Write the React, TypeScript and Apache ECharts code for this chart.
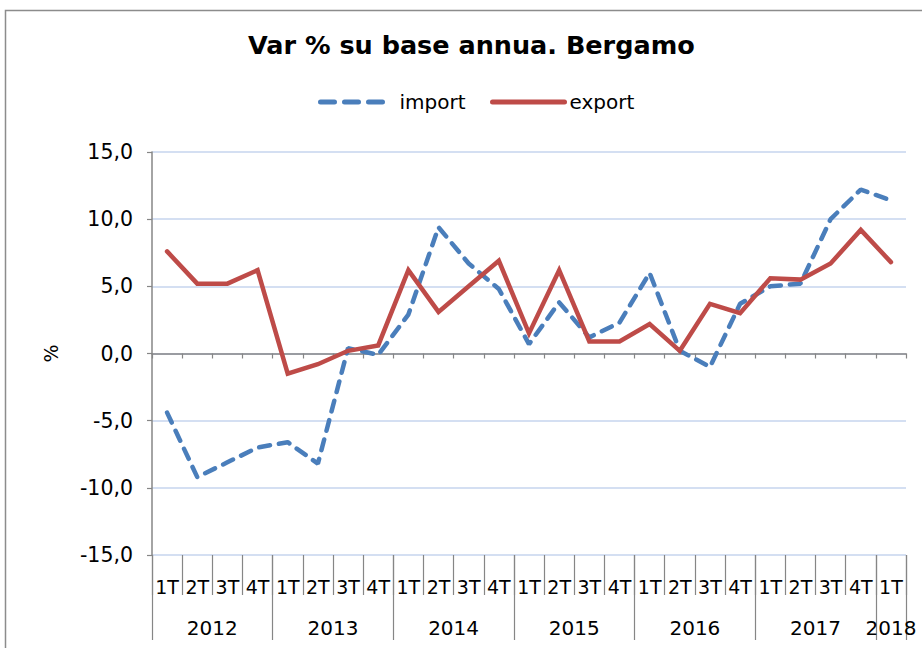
import React, { useEffect, useRef } from "react";
import * as echarts from "echarts";

const years = ["2012", "2013", "2014", "2015", "2016", "2017", "2018"];
const quarters = [
  "1T", "2T", "3T", "4T", "1T", "2T", "3T", "4T", "1T", "2T", "3T", "4T",
  "1T", "2T", "3T", "4T", "1T", "2T", "3T", "4T", "1T", "2T", "3T", "4T", "1T",
];
const importData = [
  -4.4, -9.2, -8.1, -7.0, -6.6, -8.2, 0.4, -0.1, 2.9, 9.4, 6.7, 4.8,
  0.7, 3.8, 1.2, 2.3, 6.0, 0.2, -1.0, 3.7, 5.0, 5.2, 10.0, 12.2, 11.4,
];
const exportData = [
  7.6, 5.2, 5.2, 6.2, -1.5, -0.8, 0.2, 0.6, 6.2, 3.1, 5.0, 6.9,
  1.5, 6.2, 0.9, 0.9, 2.2, 0.2, 3.7, 3.0, 5.6, 5.5, 6.7, 9.2, 6.8,
];
// year group boundaries (in quarters) and label centres
const yearBounds = [0, 4, 8, 12, 16, 20, 24, 25];
const yearCenters = [2, 6, 10, 14, 18, 22, 24.5];

const FONT = "DejaVu Sans";
const GRAY = "#868686";
const BLUE = "#4a7ebb";
const RED = "#be4b48";

export default function App() {
  const ref = useRef<HTMLDivElement>(null);
  useEffect(() => {
    if (!ref.current) return;
    const chart = echarts.init(ref.current, null, { renderer: "svg" });
    chart.setOption({
      animation: false,
      backgroundColor: "#ffffff",
      textStyle: { fontFamily: FONT },
      title: {
        text: "Var % su base annua. Bergamo",
        left: 243,
        top: 27,
        textStyle: { fontFamily: FONT, fontSize: 25.5, fontWeight: "bold", color: "#000" },
      },
      legend: [
        {
          data: ["import"],
          left: 313,
          top: 87,
          itemWidth: 66,
          itemHeight: 16,
          itemStyle: { opacity: 0 },
          lineStyle: { width: 5, type: [14, 10], cap: "round", color: BLUE },
          textStyle: { fontFamily: FONT, fontSize: 20, color: "#000", padding: [0, 0, 0, 8] },
        },
        {
          data: ["export"],
          left: 485,
          top: 87,
          itemWidth: 72,
          itemHeight: 16,
          itemStyle: { opacity: 0 },
          lineStyle: { width: 5, cap: "round", color: RED },
          textStyle: { fontFamily: FONT, fontSize: 20, color: "#000" },
        },
      ],
      graphic: [
        {
          type: "rect",
          shape: { x: 5.5, y: 10.5, width: 1000, height: 1000 },
          style: { fill: "none", stroke: "#8c8c8c", lineWidth: 1.5 },
          silent: true,
        },
      ],
      grid: { left: 152, right: 16, top: 152, bottom: 93 },
      xAxis: [
        {
          type: "category",
          data: quarters,
          boundaryGap: true,
          axisLine: { onZero: true, lineStyle: { color: GRAY, width: 1.5 } },
          axisTick: { show: true, length: 5, interval: 0, lineStyle: { color: GRAY, width: 1.2 } },
          axisLabel: { show: false },
          splitLine: { show: false },
        },
        {
          type: "category",
          data: quarters,
          position: "bottom",
          boundaryGap: true,
          axisLine: { show: false, onZero: false },
          axisTick: { show: true, length: 40, interval: 0, lineStyle: { color: GRAY, width: 1.2 } },
          axisLabel: {
            interval: 0,
            margin: 22,
            fontFamily: FONT,
            fontSize: 19,
            color: "#000",
          },
          splitLine: { show: false },
        },
        {
          type: "value",
          position: "bottom",
          min: 0,
          max: 25,
          axisLine: { show: false, onZero: false },
          axisTick: {
            show: true,
            length: 85,
            customValues: yearBounds,
            lineStyle: { color: GRAY, width: 1.2 },
          },
          axisLabel: {
            customValues: yearCenters,
            margin: 63,
            fontFamily: FONT,
            fontSize: 20,
            color: "#000",
            formatter: (v: number) => {
              const i = yearCenters.indexOf(v);
              return i >= 0 ? years[i] : "";
            },
          },
          splitLine: { show: false },
        },
      ],
      yAxis: {
        type: "value",
        min: -15,
        max: 15,
        interval: 5,
        name: "%",
        nameLocation: "middle",
        nameRotate: 90,
        nameGap: 92,
        nameTextStyle: { fontFamily: FONT, fontSize: 19, color: "#000" },
        axisLine: { show: true, lineStyle: { color: GRAY, width: 1.5 } },
        axisTick: { show: true, length: 5, lineStyle: { color: GRAY, width: 1.2 } },
        axisLabel: {
          margin: 19,
          fontFamily: FONT,
          fontSize: 20.5,
          color: "#000",
          formatter: (v: number) => v.toFixed(1).replace(".", ","),
        },
        splitLine: { show: true, lineStyle: { color: "#c6d5ee", width: 1.5 } },
      },
      series: [
        {
          name: "import",
          type: "line",
          xAxisIndex: 0,
          data: importData,
          symbol: "none",
          itemStyle: { color: BLUE },
          lineStyle: { color: BLUE, width: 4.5, type: [11, 9], cap: "round" },
        },
        {
          name: "export",
          type: "line",
          xAxisIndex: 0,
          data: exportData,
          symbol: "none",
          itemStyle: { color: RED },
          lineStyle: { color: RED, width: 4.5, cap: "round", join: "miter" },
        },
      ],
    });
    return () => chart.dispose();
  }, []);
  return (
    <div
      ref={ref}
      style={{ position: "absolute", left: 0, top: 0, width: 922, height: 648 }}
    />
  );
}
